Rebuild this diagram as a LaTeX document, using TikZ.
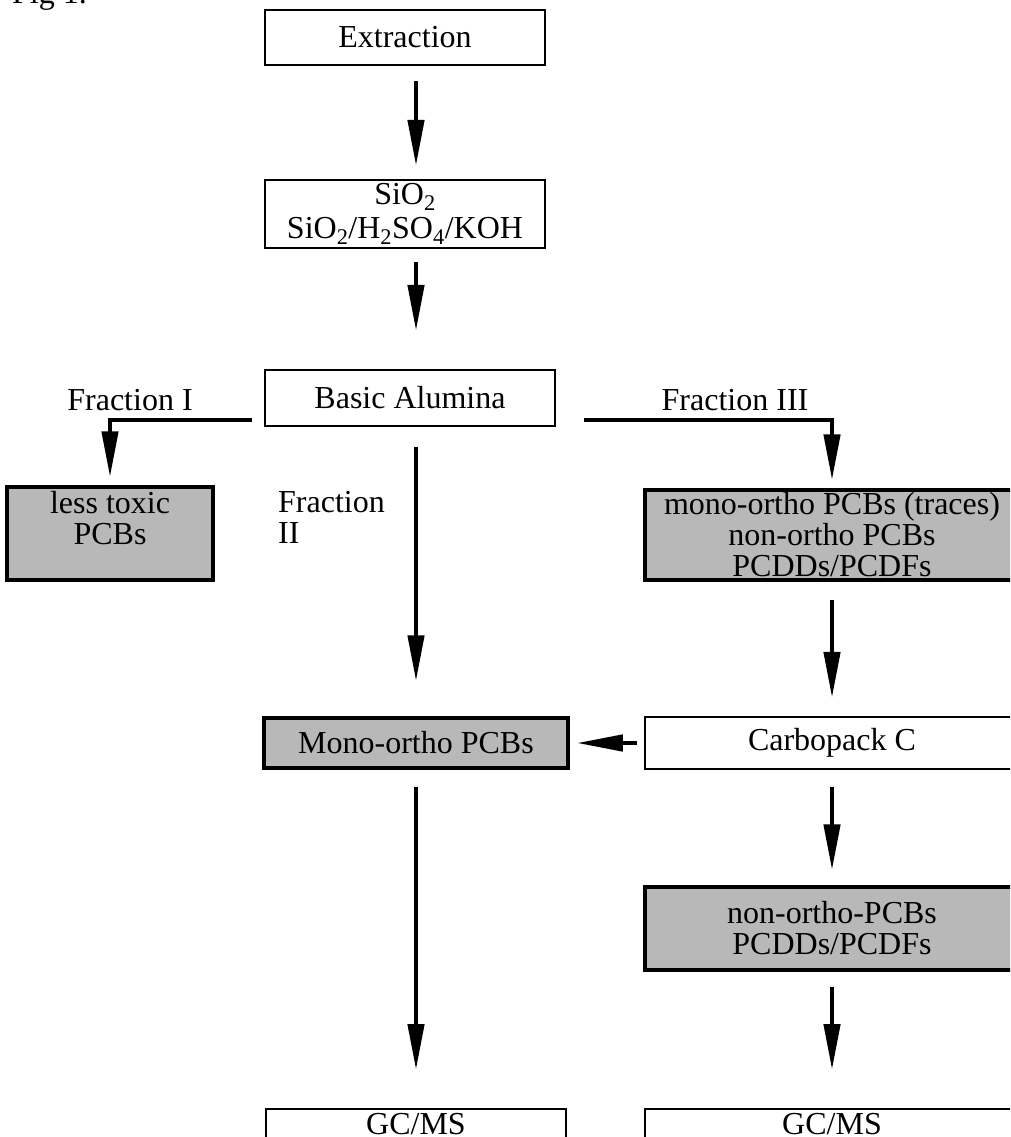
\documentclass[tikz,border=0pt]{standalone}
\usepackage{fontspec}
\setmainfont{Liberation Serif}
\usetikzlibrary{arrows.meta}
\newcommand\fsz{\fontsize{32}{31}\selectfont}
\newcommand\tbox[3]{\parbox[c][#1][t]{#2}{\centering #3}}
\begin{document}
\begin{tikzpicture}[x=1pt,y=-1pt,
  box/.style={draw, line width=2.2pt, inner sep=0pt, font=\fsz, align=center},
  shaded/.style={box, fill=black!28, line width=3.5pt},
  flow/.style={line width=4.5pt, -{Triangle[width=16pt,length=46pt]}},
  lbl/.style={font=\fsz, inner sep=0pt, align=left}]
\useasboundingbox (0,0) rectangle (1010,1137);
\clip (0,0) rectangle (1010,1137);

\node[lbl, anchor=base west] (fig) at (12,4) {Fig 1.};
\coordinate (col) at (416,0);

\node[box, minimum width=280pt, minimum height=55pt] (ext) at (405,37.5) {Extraction};
\node[box, minimum width=280pt, minimum height=68pt] (sio) at (405,214)
  {SiO\textsubscript{2}\\[3pt]SiO\textsubscript{2}/H\textsubscript{2}SO\textsubscript{4}/KOH};
\node[box, minimum width=290pt, minimum height=56pt] (ba) at (410,398) {Basic Alumina};

\node[lbl, anchor=center] (f1) at (130,400) {Fraction I};
\node[lbl, anchor=center] (f3) at (735,400) {Fraction III};
\node[lbl, anchor=north west] (f2) at (278,491) {Fraction\\II};

\node[shaded, minimum width=206pt, minimum height=93pt] (lt) at (110,533.5)
  {\tbox{85pt}{190pt}{less toxic\\PCBs}};
\node[shaded, minimum width=374pt, minimum height=90pt] (mo3) at (832,535)
  {mono-ortho PCBs (traces)\\non-ortho PCBs\\PCDDs/PCDFs};
\node[shaded, minimum width=304pt, minimum height=50pt] (mop) at (416,743) {Mono-ortho PCBs};
\node[box, minimum width=374pt, minimum height=52pt] (carb) at (832,743) {Carbopack C};
\node[shaded, minimum width=374pt, minimum height=83pt] (no) at (832,928.5)
  {non-ortho-PCBs\\PCDDs/PCDFs};
\node[box, minimum width=300pt, minimum height=70pt, anchor=north] (gc1) at (416,1108)
  {\tbox{62pt}{200pt}{GC/MS}};
\node[box, minimum width=374pt, minimum height=70pt, anchor=north] (gc2) at (832,1108)
  {\tbox{62pt}{200pt}{GC/MS}};

\draw[flow, shorten <=15pt, shorten >=13pt] (ext.south -| col) -- (sio.north -| col);
\draw[flow, shorten <=13pt, shorten >=38pt] (sio.south -| col) -- (ba.north -| col);
\draw[flow, shorten <=12pt, shorten >=8pt] ([yshift=-22pt]ba.west) -| (lt.north);
\draw[flow, shorten <=28pt, shorten >=8pt] ([yshift=-22pt]ba.east) -| (mo3.north);
\draw[flow, shorten <=20pt, shorten >=35pt] (ba.south -| col) -- (mop.north -| col);
\draw[flow, shorten <=18pt, shorten >=18pt] (mo3.south) -- (carb.north);
\draw[flow, shorten <=7pt, shorten >=7pt] (carb.west) -- (mop.east);
\draw[flow, shorten <=17pt, shorten >=15pt] (carb.south) -- (no.north);
\draw[flow, shorten <=17pt, shorten >=38pt] (mop.south -| col) -- (gc1.north -| col);
\draw[flow, shorten <=15pt, shorten >=38pt] (no.south) -- (gc2.north);
\end{tikzpicture}
\end{document}
